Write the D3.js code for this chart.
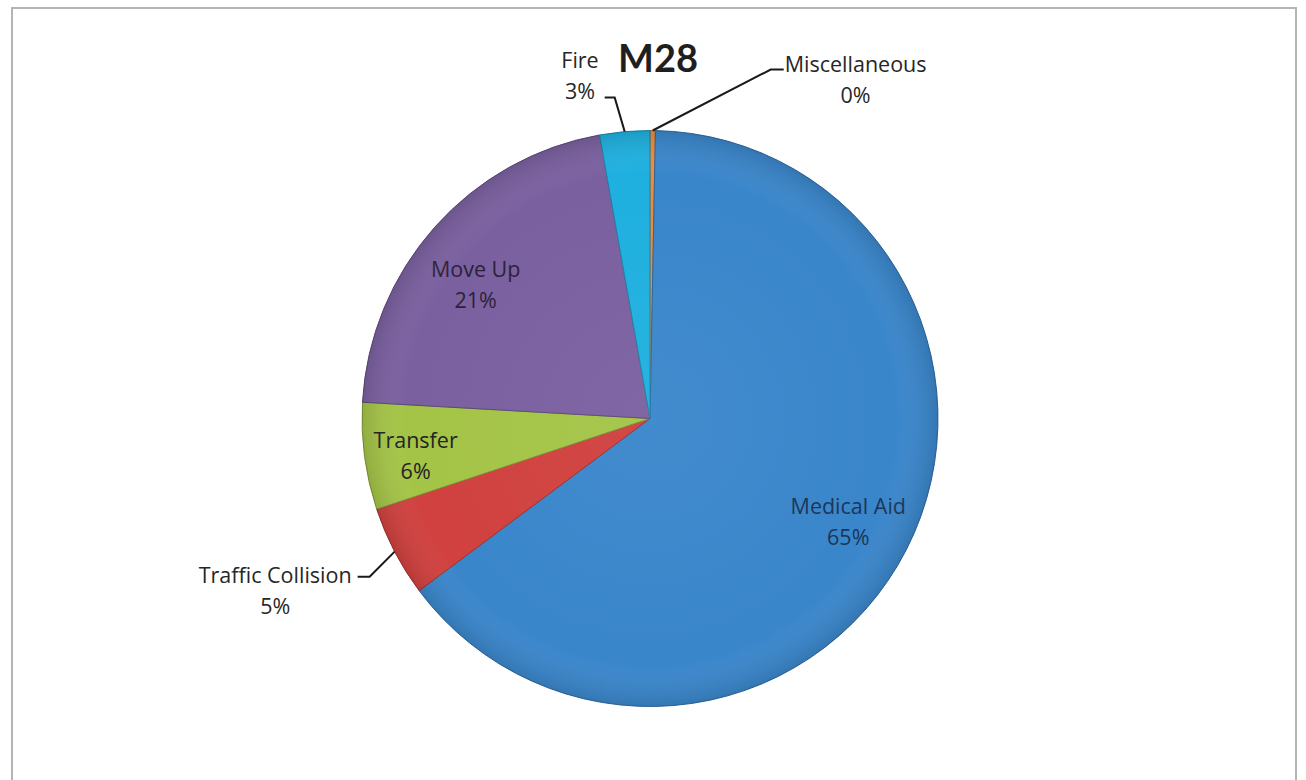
<!DOCTYPE html>
<html>
<head>
<meta charset="utf-8">
<script src="https://cdn.jsdelivr.net/npm/d3@7"></script>
<style>
  body { margin: 0; background: #fff; }
  svg { display: block; }
</style>
</head>
<body>
<svg id="chart" width="1306" height="780"></svg>
<script>
// data, clockwise from 12 o'clock
let categories = ['Miscellaneous', 'Medical Aid', 'Traffic Collision', 'Transfer', 'Move Up', 'Fire'];
let values = [0.3, 64.5, 5.1, 6.0, 21.3, 2.8];
let colors = ['#ee8a3a', '#3a86cb', '#d0413f', '#a4c447', '#7b60a0', '#1fb0df'];
let title = 'M28';

let svg = d3.select('#chart');
let cx = 650, cy = 418.5, radius = 288;
let font = '"Open Sans", Lato, sans-serif';
let fontSize = 21.5;

// frame
svg.append('rect')
  .attr('x', 12).attr('y', 8)
  .attr('width', 1284).attr('height', 800)
  .attr('fill', 'none')
  .attr('stroke', '#b4b4b4')
  .attr('stroke-width', 2);

let data = categories.map(function(c, i) {
  return { name: c, value: values[i], color: colors[i] };
});
let total = d3.sum(values);

let pie = d3.pie().sort(null).value(function(d) { return d.value; });
let arcs = pie(data);
let arc = d3.arc().innerRadius(0).outerRadius(radius);

let defs = svg.append('defs');
let shade = defs.append('radialGradient')
  .attr('id', 'shade')
  .attr('gradientUnits', 'userSpaceOnUse')
  .attr('cx', cx).attr('cy', cy).attr('r', radius);
shade.append('stop').attr('offset', '0%').attr('stop-color', '#fff').attr('stop-opacity', 0.04);
shade.append('stop').attr('offset', '85%').attr('stop-color', '#fff').attr('stop-opacity', 0);
shade.append('stop').attr('offset', '100%').attr('stop-color', '#000').attr('stop-opacity', 0.12);

let g = svg.append('g').attr('transform', 'translate(' + cx + ',' + cy + ')');

g.selectAll('path.slice')
  .data(arcs)
  .enter()
  .append('path')
  .attr('class', 'slice')
  .attr('d', arc)
  .attr('fill', function(d) { return d.data.color; })
  .attr('stroke', function(d) { return d3.color(d.data.color).darker(0.8); })
  .attr('stroke-width', 1);

svg.append('circle')
  .attr('cx', cx).attr('cy', cy)
  .attr('r', radius)
  .attr('fill', 'url(#shade)');

function pct(d) {
  return Math.round(d.data.value / total * 100) + '%';
}

// labels inside the pie: radius factor and a small nudge
let inside = {
  'Medical Aid': { r: 0.77, off: [1, 2] },
  'Transfer': { r: 0.87, off: [14, 5] },
  'Move Up': { r: 0.8, off: [-2, 19] }
};
let insideColor = { 'Medical Aid': '#1b3558', 'Transfer': '#222', 'Move Up': '#2a2238' };

arcs.filter(function(d) { return inside[d.data.name]; }).forEach(function(d) {
  let o = inside[d.data.name];
  let r = radius * o.r;
  let p = d3.arc().innerRadius(r).outerRadius(r).centroid(d);
  let x = p[0] + o.off[0], y = p[1] + o.off[1];
  let t = g.append('text')
    .attr('text-anchor', 'middle')
    .attr('font-family', font)
    .attr('font-size', fontSize)
    .attr('fill', insideColor[d.data.name]);
  t.append('tspan').attr('x', x).attr('y', y - 8).text(d.data.name);
  t.append('tspan').attr('x', x).attr('y', y + 23).text(pct(d));
});

// labels outside with leader lines: elbow offset, side of text
let outside = {
  'Traffic Collision': { elbow: [-25, 25], len: 12, side: 'left', dy: 6 },
  'Fire': { elbow: [-10, -34], len: 10, side: 'left', dy: -30 },
  'Miscellaneous': { elbow: [118, -61], len: 13, side: 'right', dy: 2 }
};

arcs.filter(function(d) { return outside[d.data.name]; }).forEach(function(d) {
  let o = outside[d.data.name];
  let mid = (d.startAngle + d.endAngle) / 2;
  let ex = Math.sin(mid) * radius, ey = -Math.cos(mid) * radius;
  let bx = ex + o.elbow[0], by = ey + o.elbow[1];
  let hx = o.side === 'left' ? bx - o.len : bx + o.len;
  g.append('path')
    .attr('d', 'M' + ex + ',' + ey + 'L' + bx + ',' + by + 'L' + hx + ',' + by)
    .attr('fill', 'none')
    .attr('stroke', '#1a1a1a')
    .attr('stroke-width', 2);

  let t = g.append('text')
    .attr('text-anchor', 'middle')
    .attr('font-family', font)
    .attr('font-size', fontSize)
    .attr('fill', '#262626');
  let name = t.append('tspan').attr('y', by + o.dy).text(d.data.name);
  let w = name.node().getComputedTextLength();
  let tx = o.side === 'left' ? hx - 6 - w / 2 : hx + 1 + w / 2;
  name.attr('x', tx);
  t.append('tspan').attr('x', tx).attr('y', by + o.dy + 31).text(pct(d));
});

// title
svg.append('text')
  .attr('x', 658).attr('y', 72)
  .attr('text-anchor', 'middle')
  .attr('font-family', 'Lato, "Open Sans", sans-serif')
  .attr('font-weight', 'bold')
  .attr('font-size', 38)
  .attr('fill', '#1f1f1f')
  .text(title);
</script>
</body>
</html>
